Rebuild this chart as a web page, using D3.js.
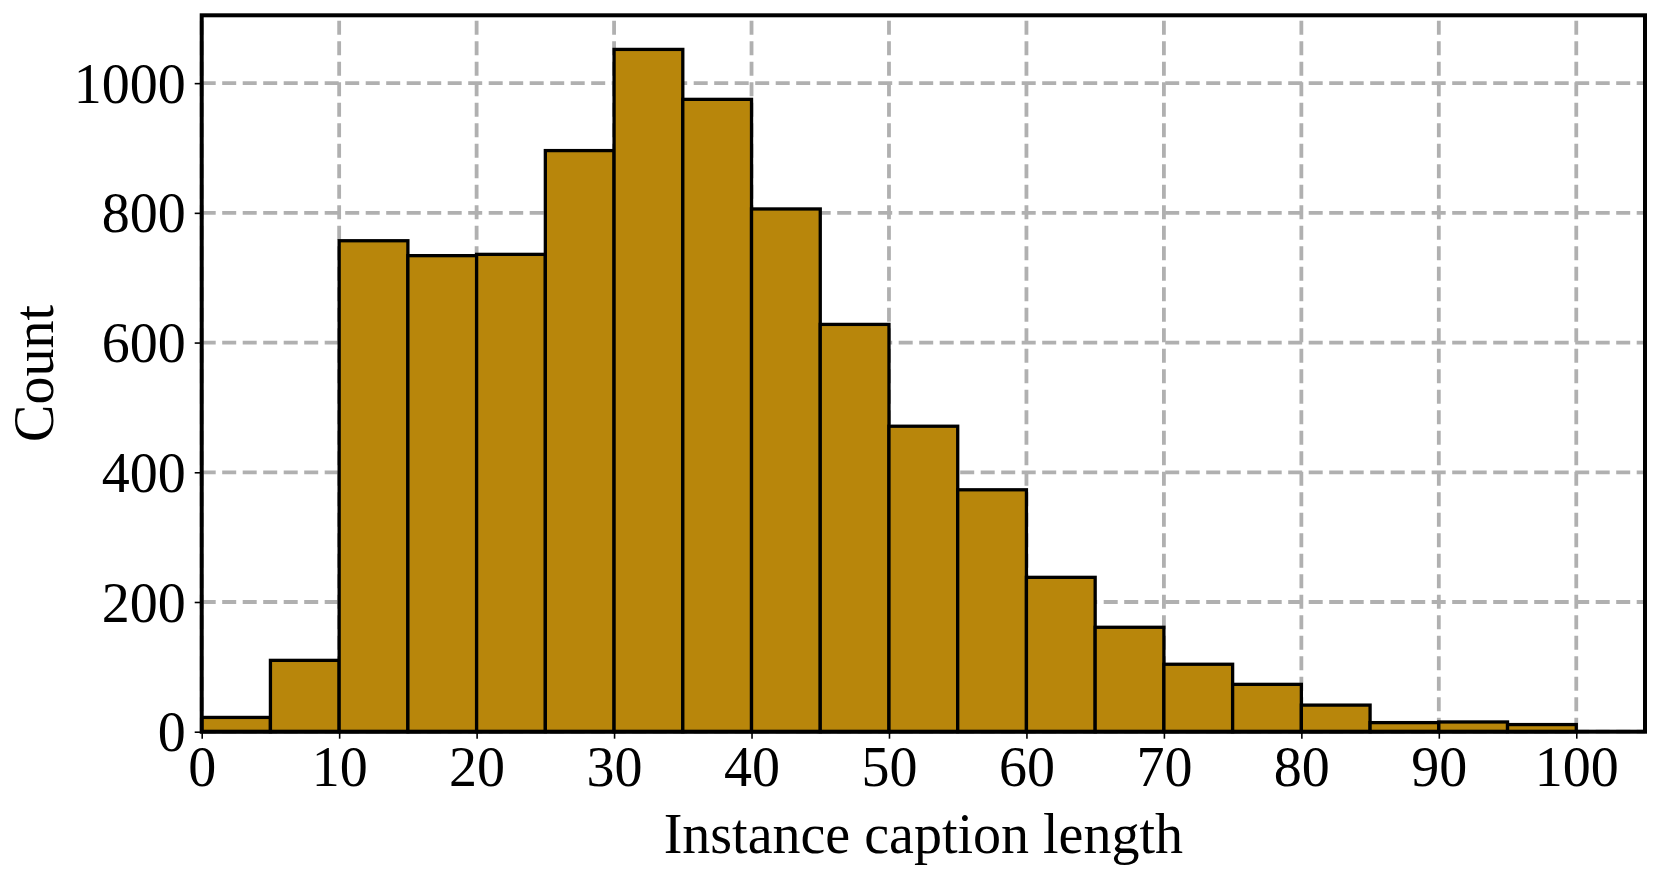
<!DOCTYPE html>
<html>
<head>
<meta charset="utf-8">
<script src="https://cdn.jsdelivr.net/npm/d3@7/dist/d3.min.js"></script>
<style>
  html, body { margin: 0; padding: 0; background: #ffffff; }
  svg text { font-family: "Liberation Serif", "Times New Roman", serif; fill: #000; }
</style>
</head>
<body>
<svg id="chart" width="1660" height="873"></svg>
<script>
// ---- data ----
const binStarts = [0, 5, 10, 15, 20, 25, 30, 35, 40, 45, 50, 55, 60, 65, 70, 75, 80, 85, 90, 95];
const binWidth = 5;
const counts = [22, 110, 757, 734, 736, 896, 1052, 975, 806, 628, 471, 373, 238, 161, 104, 73, 41, 14, 15, 11];
const xTicks = [0, 10, 20, 30, 40, 50, 60, 70, 80, 90, 100];
const yTicks = [0, 200, 400, 600, 800, 1000];
const xLabel = "Instance caption length";
const yLabel = "Count";

(function () {
  // ---- layout ----
  const pLeft = 201.7, pRight = 1645, pTop = 15.3, pBottom = 731.7;
  const svg = d3.select("#chart");

  const x = d3.scaleLinear().domain([0, 105]).range([pLeft, pRight]);
  const yMax = d3.max(counts) * 1.05;
  const y = d3.scaleLinear().domain([0, yMax]).range([pBottom, pTop]);

  // grid
  const grid = svg.append("g");
  grid.selectAll("line.gx").data(xTicks).join("line")
    .attr("class", "gx")
    .attr("x1", d => x(d)).attr("x2", d => x(d))
    .attr("y1", pBottom).attr("y2", pTop)
    .attr("stroke", "#b0b0b0").attr("stroke-width", 3.8)
    .attr("stroke-dasharray", "14,6.5");
  grid.selectAll("line.gy").data(yTicks).join("line")
    .attr("class", "gy")
    .attr("x1", pLeft).attr("x2", pRight)
    .attr("y1", d => y(d)).attr("y2", d => y(d))
    .attr("stroke", "#b0b0b0").attr("stroke-width", 3.8)
    .attr("stroke-dasharray", "14,6.5");

  // bars
  svg.append("g").selectAll("rect").data(counts).join("rect")
    .attr("x", (d, i) => x(binStarts[i]))
    .attr("width", (d, i) => x(binStarts[i] + binWidth) - x(binStarts[i]))
    .attr("y", d => y(d))
    .attr("height", d => y(0) - y(d))
    .attr("fill", "#b8860b")
    .attr("stroke", "#000")
    .attr("stroke-width", 3.3);

  // frame
  svg.append("rect")
    .attr("x", pLeft).attr("y", pTop)
    .attr("width", pRight - pLeft).attr("height", pBottom - pTop)
    .attr("fill", "none").attr("stroke", "#000").attr("stroke-width", 4);

  // axes
  const fontSize = 56;
  const xAxis = d3.axisBottom(x).tickValues(xTicks).tickSize(7).tickPadding(10).tickFormat(d3.format("d"));
  const gx = svg.append("g").attr("transform", `translate(0,${pBottom})`).call(xAxis);
  gx.select(".domain").remove();
  gx.selectAll(".tick line").attr("stroke", "#000").attr("stroke-width", 1.6);
  gx.selectAll(".tick text").attr("font-size", fontSize)
    .attr("font-family", "Liberation Serif, Times New Roman, serif")
    .attr("dy", null).attr("y", 54).attr("fill", "#000");

  const yAxis = d3.axisLeft(y).tickValues(yTicks).tickSize(7).tickPadding(9).tickFormat(d3.format("d"));
  const gy = svg.append("g").attr("transform", `translate(${pLeft},0)`).call(yAxis);
  gy.select(".domain").remove();
  gy.selectAll(".tick line").attr("stroke", "#000").attr("stroke-width", 1.6);
  gy.selectAll(".tick text").attr("font-size", fontSize)
    .attr("font-family", "Liberation Serif, Times New Roman, serif")
    .attr("dy", "0.34em").attr("fill", "#000");

  // labels
  svg.append("text")
    .attr("x", (pLeft + pRight) / 2).attr("y", 853)
    .attr("text-anchor", "middle").attr("font-size", fontSize)
    .text(xLabel);
  svg.append("text")
    .attr("transform", `translate(53,${(pTop + pBottom) / 2}) rotate(-90)`)
    .attr("text-anchor", "middle").attr("font-size", fontSize)
    .text(yLabel);
})();
</script>
</body>
</html>
